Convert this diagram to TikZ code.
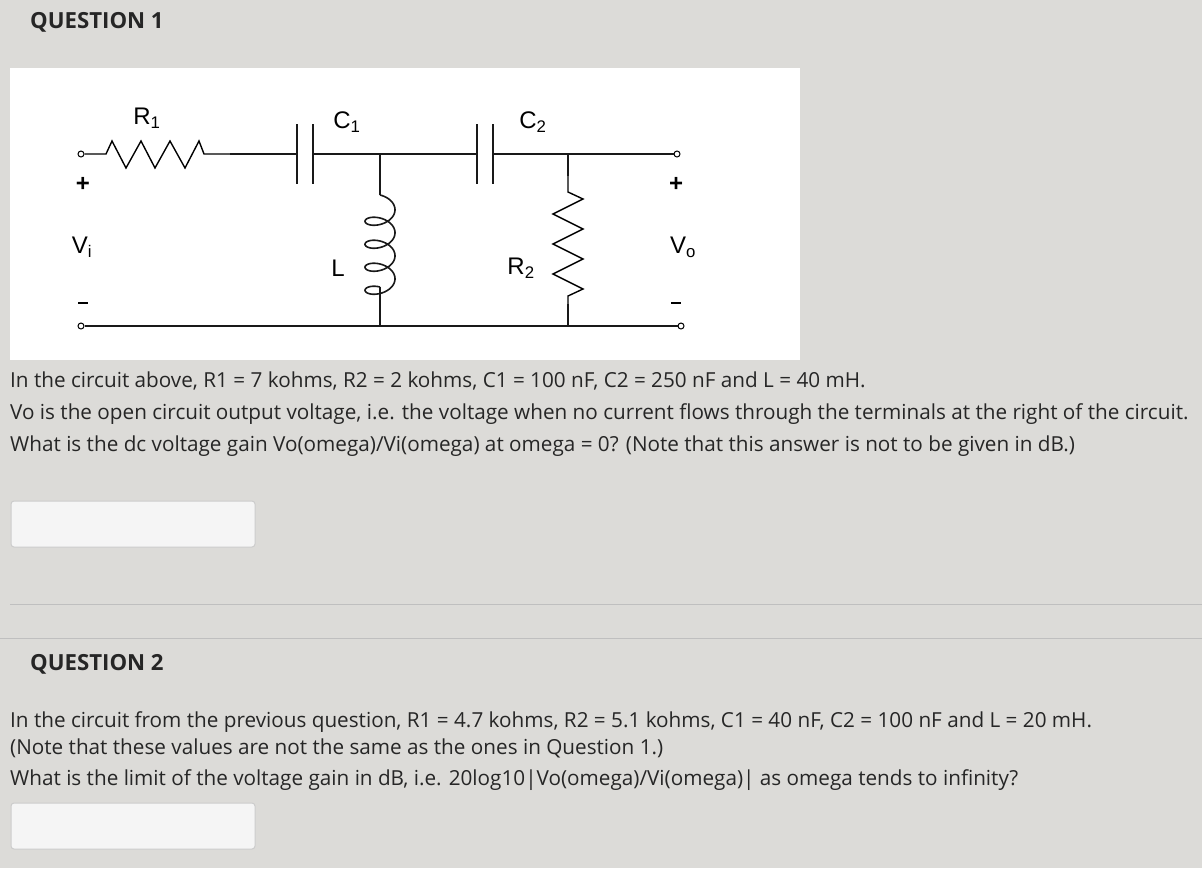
\documentclass[tikz,border=0pt]{standalone}
\usepackage{fontspec}
\setmainfont{Open Sans}
\newfontfamily\cfont{Liberation Sans}
\definecolor{bgc}{RGB}{220,219,216}
\begin{document}
\begin{tikzpicture}[x=1pt,y=-1pt,
  wire/.style={line width=2.2pt,black!90},
  term/.style={circle,draw,line width=1pt,fill=white,inner sep=0pt,minimum size=6pt},
  clab/.style={font=\cfont\fontsize{24}{26}\selectfont,inner sep=0pt},
  txt/.style={font=\fontsize{20.7}{24}\selectfont,anchor=west,inner sep=0pt,text=black!85},
  head/.style={font=\bfseries\fontsize{22.2}{26}\selectfont,anchor=west,inner sep=0pt,text=black!85},
  ansbox/.style={draw=black!20,fill=black!4,rounded corners=3pt,line width=1pt}]
\fill[bgc] (0,0) rectangle (1202,868);
\useasboundingbox (0,0) rectangle (1202,868);
\fill[white] (10,68) rectangle (800,360);
\node[head] (q1) at (30,22) {QUESTION 1};
% terminals
\node[term] (ti) at (81,154) {};
\node[term] (tib) at (81,326) {};
\node[term] (to) at (677,154) {};
\node[term] (tob) at (681,326) {};
\coordinate (jL) at (380,154);
\coordinate (jR) at (568,154);
\coordinate (bL) at (380,326);
\coordinate (bR) at (568,326);
% R1
\draw[line width=1.4pt] (ti) -- (106,154) -- (112,141) -- plot coordinates {(126,168)(141,141)(155,168)(170,141)(185,168)(199,141)(204,154)} -- (230,154);
\draw[wire] (230,154) -- (297,154);
\draw[wire] (297,124) -- (297,184);
\draw[wire] (313,124) -- (313,184);
\draw[wire] (313,154) -- (jL) -- (477,154);
\draw[wire] (477,124) -- (477,184);
\draw[wire] (493,124) -- (493,184);
\draw[wire] (493,154) -- (jR) -- (to);
% L
\draw[wire] (jL) -- (380,195);
\draw[line width=1.6pt,black!90] plot[domain=0:25.1327,samples=240,smooth] ({380+15*sin(\x r)},{195+3.66*\x+9*(1-cos(\x r))});
\draw[wire] (380,287) -- (bL);
% R2
\draw[wire] (jR) -- (568,176);
\draw[line width=1.4pt] (568,176) -- (568,192) -- (583,199) -- (553,214) -- (583,229) -- (553,244) -- (583,259) -- (553,274) -- (583,289) -- (568,296) -- (568,304);
\draw[wire] (568,304) -- (bR);
\draw[wire] (tib) -- (bL) -- (bR) -- (tob);
% labels
\node[clab] (lr1) at (147,118) {R\textsubscript{1}};
\node[clab] (lc1) at (347,122) {C\textsubscript{1}};
\node[clab] (lc2) at (533,122) {C\textsubscript{2}};
\node[clab] (ll) at (338,268) {L};
\node[clab] (lr2) at (521,268) {R\textsubscript{2}};
\node[clab] (vi) at (82,247) {V\textsubscript{i}};
\node[clab] (vo) at (683,247) {V\textsubscript{o}};
\node[clab,font=\cfont\bfseries\fontsize{24}{26}\selectfont] (p1) at (83,184) {+};
\node[clab,font=\cfont\bfseries\fontsize{24}{26}\selectfont] (p2) at (676,184) {+};
\draw[line width=2.2pt] (78,303) -- (88,303);
\draw[line width=2.2pt] (671,303) -- (681,303);
% texts
\node[txt] (t1) at (10,381) {In the circuit above, R1 = 7 kohms, R2 = 2 kohms, C1 = 100 nF, C2 = 250 nF and L = 40 mH.};
\node[txt] (t2) at (10,414) {Vo is the open circuit output voltage, i.e. the voltage when no current flows through the terminals at the right of the circuit.};
\node[txt] (t3) at (10,446) {What is the dc voltage gain Vo(omega)/Vi(omega) at omega = 0? (Note that this answer is not to be given in dB.)};
\draw[ansbox] (11,501) rectangle (255,547);
\draw[black!25,line width=1pt] (10,604) -- (1202,604);
\draw[black!25,line width=1pt] (0,638) -- (1202,638);
\node[head] (q2) at (30,664) {QUESTION 2};
\node[txt] (t4) at (10,722) {In the circuit from the previous question, R1 = 4.7 kohms, R2 = 5.1 kohms, C1 = 40 nF, C2 = 100 nF and L = 20 mH.};
\node[txt] (t5) at (10,748) { (Note that these values are not the same as the ones in Question 1.)};
\node[txt] (t6) at (10,780) {What is the limit of the voltage gain in dB, i.e. 20log10|Vo(omega)/Vi(omega)| as omega tends to infinity?};
\draw[ansbox] (11,803) rectangle (255,849);
\end{tikzpicture}
\end{document}
